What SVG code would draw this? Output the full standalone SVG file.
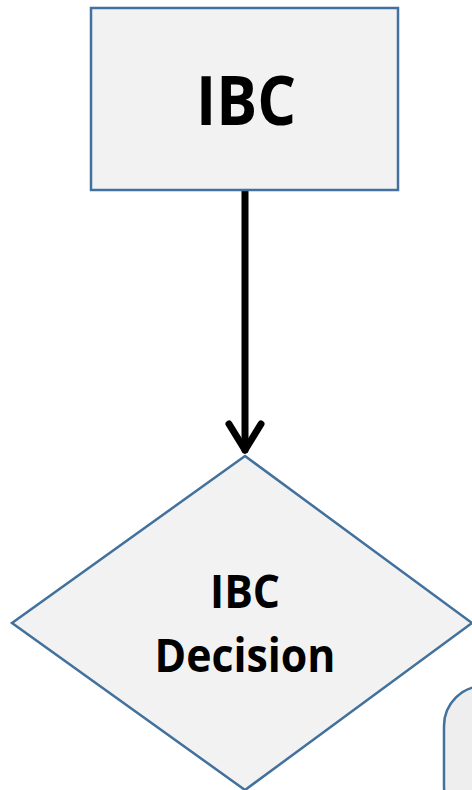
<svg xmlns="http://www.w3.org/2000/svg" width="472" height="790" viewBox="0 0 472 790">
  <defs>
    <style>
      .node { fill: #f2f2f2; stroke: #41719c; stroke-width: 2.5; }
      .label { font-family: "Open Sans", "Liberation Sans", sans-serif; font-weight: bold; fill: #000; text-anchor: middle; }
      .edge { fill: none; stroke: #000; stroke-width: 7; stroke-linecap: round; stroke-linejoin: round; }
    </style>
  </defs>
  <rect width="472" height="790" fill="#ffffff"/>

  <g id="connectors">
    <line class="edge" x1="245" y1="191" x2="245" y2="450"/>
    <polyline class="edge" points="229,424 245,450 261,424"/>
  </g>

  <g id="ibc">
    <rect class="node" x="91" y="8" width="307" height="182"/>
    <text class="label" x="246" y="125" font-size="68" textLength="100" lengthAdjust="spacingAndGlyphs">IBC</text>
  </g>

  <g id="ibc-decision">
    <polygon class="node" points="245,456 472,623 245,790 12,623"/>
    <text class="label" x="245" y="608" font-size="46" textLength="70" lengthAdjust="spacingAndGlyphs">IBC</text>
    <text class="label" x="245" y="672" font-size="46" textLength="181" lengthAdjust="spacingAndGlyphs">Decision</text>
  </g>

  <g id="next-step">
    <rect x="444" y="686" width="80" height="140" rx="40" ry="40" fill="#eeeeee" stroke="#41719c" stroke-width="2.5"/>
  </g>
</svg>
